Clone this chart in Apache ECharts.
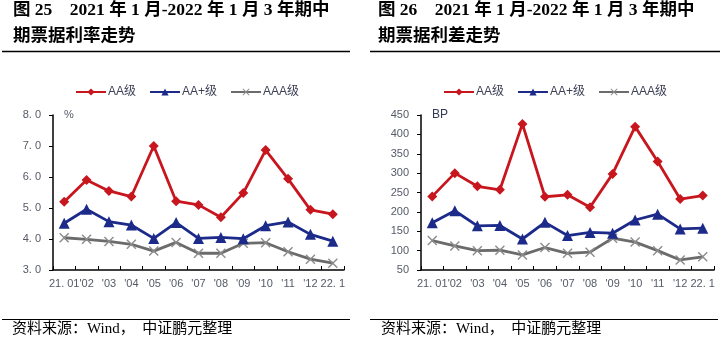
<!DOCTYPE html>
<html>
<head>
<meta charset="utf-8">
<script src="https://cdn.jsdelivr.net/npm/echarts@6/dist/echarts.min.js"></script>
<style>
  html, body { margin: 0; padding: 0; background: #fff; }
  #chart { width: 721px; height: 345px; }
</style>
</head>
<body>
<div id="chart"></div>
<script>
// Months from Jan 2021 to Jan 2022
const months = ["21. 01", "'02", "'03", "'04", "'05", "'06", "'07", "'08", "'09", "'10", "'11", "'12", "22. 1"];

// 3-year medium-term note yields (%)
const rateAA    = [5.20, 5.90, 5.55, 5.37, 7.00, 5.22, 5.10, 4.70, 5.48, 6.87, 5.94, 4.94, 4.80];
const rateAAp   = [4.51, 4.96, 4.56, 4.45, 4.02, 4.53, 4.02, 4.05, 4.01, 4.43, 4.55, 4.15, 3.93];
const rateAAA   = [4.04, 3.99, 3.92, 3.83, 3.61, 3.89, 3.54, 3.54, 3.86, 3.88, 3.59, 3.35, 3.22];

// 3-year medium-term note spreads (BP)
const spreadAA  = [240, 300, 266, 257, 427, 239, 244, 212, 298, 420, 330, 233, 242];
const spreadAAp = [172, 203, 164, 165, 130, 173, 139, 147, 145, 179, 194, 156, 158];
const spreadAAA = [126, 112, 100, 101,  89, 108,  93,  96, 132, 122, 100,  76,  84];

const seriesNames = ["AA级", "AA+级", "AAA级"];
const colors = ["#c8161e", "#1c2a8a", "#6b6b6b"];

const crossPath = 'path://M0,1L1,0L5,4L9,0L10,1L6,5L10,9L9,10L5,6L1,10L0,9L4,5Z';
const symbols = ['diamond', 'triangle', crossPath];
const symbolSizes = [10, 11, 10];

const labelColor = '#555a66';
const tickFont = '"Liberation Sans", Arial, sans-serif';
const titleFont = '"Liberation Serif", "Noto Sans CJK SC", serif';

function makeSeries(data, idx, axisIdx) {
  return {
    name: seriesNames[idx],
    type: 'line',
    xAxisIndex: axisIdx,
    yAxisIndex: axisIdx,
    data: data,
    symbol: symbols[idx],
    symbolSize: symbolSizes[idx],
    showAllSymbol: true,
    lineStyle: { color: colors[idx], width: 2.8 },
    itemStyle: { color: idx === 2 ? '#8c8c8c' : colors[idx] },
    z: 10 - idx,
    animation: false
  };
}

function xAxisCfg(gridIndex) {
  return {
    type: 'category',
    gridIndex: gridIndex,
    data: months,
    boundaryGap: true,
    axisLine: { lineStyle: { color: '#000', width: 1.5 } },
    axisTick: { show: true, inside: true, length: 4, lineStyle: { color: '#000', width: 1 } },
    axisLabel: { interval: 0, color: labelColor, fontSize: 11, fontFamily: tickFont, margin: 8 },
    splitLine: { show: false }
  };
}

function yAxisCfg(gridIndex, min, max, interval, fmt) {
  return {
    type: 'value',
    gridIndex: gridIndex,
    min: min, max: max, interval: interval,
    axisLine: { show: true, lineStyle: { color: '#000', width: 1.5 } },
    axisTick: { show: true, inside: false, length: 4, lineStyle: { color: '#000', width: 1 } },
    axisLabel: { color: labelColor, fontSize: 11, fontFamily: tickFont, margin: 12, formatter: fmt },
    splitLine: { show: false }
  };
}

function legendCfg(left) {
  return {
    left: left, top: 86, padding: 0,
    itemWidth: 30, itemHeight: 9, itemGap: 13,
    textStyle: { color: '#3c3f55', fontSize: 12, fontFamily: '"Liberation Sans", "Noto Sans CJK SC", sans-serif', padding: [0, 0, 0, -3] },
    data: seriesNames
  };
}

const chart = echarts.init(document.getElementById('chart'), null, { renderer: 'canvas' });

const option = {
  backgroundColor: '#fff',
  animation: false,
  legend: [legendCfg(75), legendCfg(443)],
  grid: [
    { left: 53, top: 115, width: 291, height: 155 },
    { left: 421, top: 115, width: 293, height: 155 }
  ],
  xAxis: [xAxisCfg(0), xAxisCfg(1)],
  yAxis: [
    yAxisCfg(0, 3, 8, 1, v => v.toFixed(1).replace('.', '. ')),
    yAxisCfg(1, 50, 450, 50, v => String(v))
  ],
  series: [
    makeSeries(rateAA, 0, 0),
    makeSeries(rateAAp, 1, 0),
    makeSeries(rateAAA, 2, 0),
    makeSeries(spreadAA, 0, 1),
    makeSeries(spreadAAp, 1, 1),
    makeSeries(spreadAAA, 2, 1)
  ],
  graphic: [
    // figure titles
    { type: 'text', left: 13, top: 2, style: { text: '图 25　2021 年 1 月-2022 年 1 月 3 年期中', font: 'bold 17.5px ' + titleFont, fill: '#000' } },
    { type: 'text', left: 13, top: 28, style: { text: '期票据利率走势', font: 'bold 17.5px ' + titleFont, fill: '#000' } },
    { type: 'text', left: 378, top: 2, style: { text: '图 26　2021 年 1 月-2022 年 1 月 3 年期中', font: 'bold 17.5px ' + titleFont, fill: '#000' } },
    { type: 'text', left: 378, top: 28, style: { text: '期票据利差走势', font: 'bold 17.5px ' + titleFont, fill: '#000' } },
    // rules under titles and above sources
    { type: 'line', shape: { x1: 2, y1: 51.5, x2: 350, y2: 51.5 }, style: { stroke: '#000', lineWidth: 1.5 } },
    { type: 'line', shape: { x1: 370, y1: 51.5, x2: 720, y2: 51.5 }, style: { stroke: '#000', lineWidth: 1.5 } },
    { type: 'line', shape: { x1: 2, y1: 319.5, x2: 350, y2: 319.5 }, style: { stroke: '#000', lineWidth: 1.2 } },
    { type: 'line', shape: { x1: 370, y1: 319.5, x2: 718, y2: 319.5 }, style: { stroke: '#000', lineWidth: 1.2 } },
    // source notes
    { type: 'text', left: 12, top: 322, style: { text: '资料来源：Wind，  中证鹏元整理', font: '15px ' + titleFont, fill: '#000' } },
    { type: 'text', left: 381, top: 322, style: { text: '资料来源：Wind，  中证鹏元整理', font: '15px ' + titleFont, fill: '#000' } },
    // units
    { type: 'text', left: 64, top: 109, style: { text: '%', font: '11px ' + tickFont, fill: labelColor } },
    { type: 'text', left: 432, top: 109, style: { text: 'BP', font: '12px ' + tickFont, fill: '#333a55' } }
  ]
};

chart.setOption(option);
</script>
</body>
</html>
